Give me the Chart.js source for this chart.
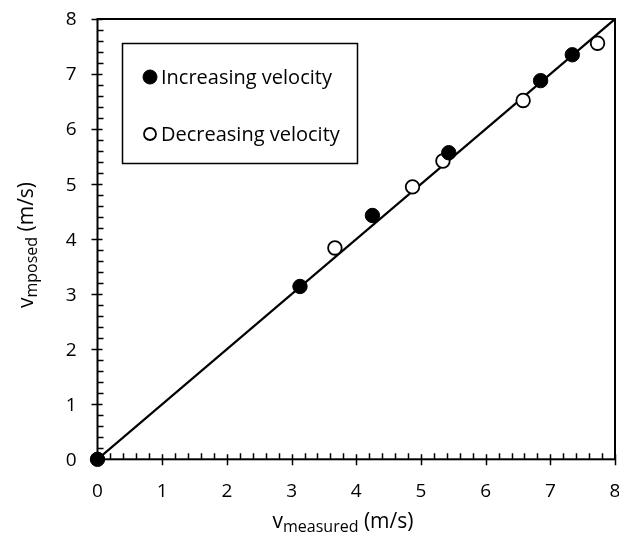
<!DOCTYPE html>
<html>
<head>
<script src="https://cdn.jsdelivr.net/npm/chart.js"></script>
<style>
  body { margin: 0; background: #fff; }
  #wrap { width: 619px; height: 535px; }
</style>
</head>
<body>
<div id="wrap"><canvas id="chart"></canvas></div>
<script>
// data
const incX = [0, 3.13, 4.25, 5.43, 6.85, 7.34];
const incY = [0, 3.14, 4.43, 5.57, 6.88, 7.35];
const decX = [3.67, 4.87, 5.34, 6.58, 7.73];
const decY = [3.84, 4.95, 5.42, 6.52, 7.56];
const fitX = [0, 8];
const fitY = [0, 8];
const axisMin = 0, axisMax = 8;
const tickValues = [0, 1, 2, 3, 4, 5, 6, 7, 8];
const legendLabels = ['Increasing velocity', 'Decreasing velocity'];

const FONT = '"Open Sans", sans-serif';

function pts(xs, ys) {
  return xs.map((x, i) => ({ x: x, y: ys[i] }));
}

// frame + excel-style ticks (major crossing, minor inside) + tick labels
const framePlugin = {
  id: 'frame',
  beforeDatasetsDraw(chart) {
    const ctx = chart.ctx, a = chart.chartArea;
    const xs = chart.scales.x, ys = chart.scales.y;
    ctx.save();
    ctx.strokeStyle = '#000';
    ctx.lineWidth = 2;
    ctx.strokeRect(a.left, a.top, a.right - a.left, a.bottom - a.top);
    ctx.lineWidth = 1.5;
    ctx.beginPath();
    for (let i = 0; i <= 40; i++) {
      const v = i * 0.2;
      const major = i % 5 === 0;
      const px = Math.round(xs.getPixelForValue(v)) + 0.5;
      const py = Math.round(ys.getPixelForValue(v)) + 0.5;
      if (major) {
        ctx.moveTo(px, a.bottom - 5); ctx.lineTo(px, a.bottom + 6);
        ctx.moveTo(a.left - 6, py); ctx.lineTo(a.left + 5, py);
      } else {
        ctx.moveTo(px, a.bottom - 6); ctx.lineTo(px, a.bottom);
        ctx.moveTo(a.left, py); ctx.lineTo(a.left + 6, py);
      }
    }
    ctx.stroke();

    ctx.fillStyle = '#000';
    ctx.font = '19px ' + FONT;
    ctx.textAlign = 'center';
    ctx.textBaseline = 'middle';
    tickValues.forEach(v => {
      ctx.fillText(String(v), xs.getPixelForValue(v), a.bottom + 32);
    });
    ctx.textAlign = 'right';
    tickValues.forEach(v => {
      ctx.fillText(String(v), a.left - 21, ys.getPixelForValue(v) + 1);
    });
    ctx.restore();
  }
};

function drawSub(ctx, parts, cx, cy) {
  let total = 0;
  parts.forEach(p => { ctx.font = p.size + 'px ' + FONT; p.w = ctx.measureText(p.t).width; total += p.w; });
  let x = cx - total / 2;
  parts.forEach(p => {
    ctx.font = p.size + 'px ' + FONT;
    ctx.fillText(p.t, x, cy + p.dy);
    x += p.w;
  });
}

const titlePlugin = {
  id: 'titles',
  afterDraw(chart) {
    const ctx = chart.ctx;
    ctx.save();
    ctx.fillStyle = '#000';
    ctx.textBaseline = 'alphabetic';
    ctx.textAlign = 'left';
    drawSub(ctx, [
      { t: 'v', size: 21, dy: 0 },
      { t: 'measured', size: 16, dy: 4 },
      { t: ' (m/s)', size: 21, dy: 0 }
    ], 343, 528);
    ctx.translate(33, 245);
    ctx.rotate(-Math.PI / 2);
    drawSub(ctx, [
      { t: 'v', size: 21, dy: 0 },
      { t: 'mposed', size: 16, dy: 4 },
      { t: ' (m/s)', size: 21, dy: 0 }
    ], 0, 0);
    ctx.restore();

    // legend box inside the plot
    const ds = chart.data.datasets;
    ctx.save();
    ctx.strokeStyle = '#000';
    ctx.lineWidth = 1.5;
    ctx.strokeRect(122.5, 43.5, 235, 120);
    ctx.font = '20px ' + FONT;
    ctx.textBaseline = 'middle';
    [0, 1].forEach(i => {
      const y = i === 0 ? 77 : 134;
      ctx.beginPath();
      ctx.arc(150, y, i === 0 ? 7 : 6, 0, Math.PI * 2);
      ctx.fillStyle = ds[i].backgroundColor;
      ctx.fill();
      ctx.lineWidth = ds[i].borderWidth;
      ctx.strokeStyle = '#000';
      ctx.stroke();
      ctx.fillStyle = '#000';
      ctx.fillText(ds[i].label, 161, y + 1);
    });
    ctx.restore();
  }
};

new Chart(document.getElementById('chart'), {
  type: 'scatter',
  data: {
    datasets: [
      {
        label: legendLabels[0],
        data: pts(incX, incY),
        pointRadius: 7.2,
        backgroundColor: '#000',
        borderColor: '#000',
        borderWidth: 1,
        clip: false
      },
      {
        label: legendLabels[1],
        data: pts(decX, decY),
        pointRadius: 6.8,
        backgroundColor: '#fff',
        borderColor: '#000',
        borderWidth: 1.8,
        clip: false
      },
      {
        label: 'fit',
        data: pts(fitX, fitY),
        showLine: true,
        pointRadius: 0,
        borderColor: '#000',
        borderWidth: 2.2
      }
    ]
  },
  options: {
    responsive: true,
    maintainAspectRatio: false,
    animation: false,
    layout: { autoPadding: false, padding: { top: 19, right: 4, left: 0, bottom: 0 } },
    plugins: {
      legend: { display: false },
      tooltip: { enabled: false }
    },
    scales: {
      x: {
        type: 'linear',
        min: axisMin, max: axisMax,
        grid: { display: false, drawTicks: false },
        border: { display: false },
        ticks: { display: false, stepSize: 1 },
        afterFit(s) { s.height = 75.7; }
      },
      y: {
        type: 'linear',
        min: axisMin, max: axisMax,
        grid: { display: false, drawTicks: false },
        border: { display: false },
        ticks: { display: false, stepSize: 1 },
        afterFit(s) { s.width = 97.5; }
      }
    }
  },
  plugins: [framePlugin, titlePlugin]
});
</script>
</body>
</html>
